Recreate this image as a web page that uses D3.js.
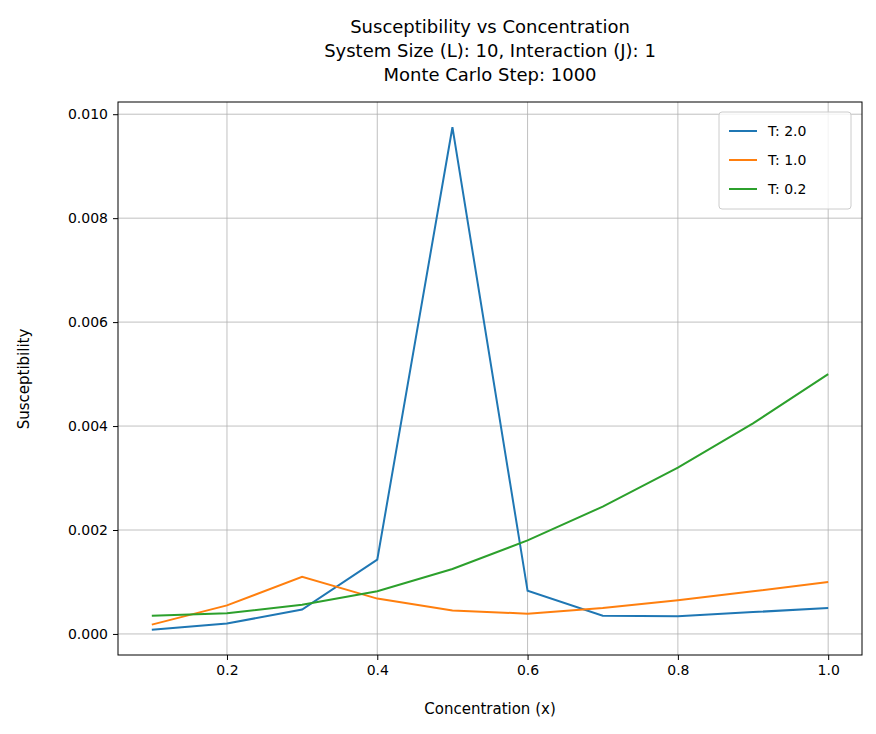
<!DOCTYPE html><html><head><meta charset="utf-8">
<script src="https://cdn.jsdelivr.net/npm/d3@7"></script>
<style>body{margin:0;background:#fff}text{font-family:"DejaVu Sans",sans-serif;fill:#000}</style></head><body>
<svg id="c" width="876" height="734"></svg>
<script>
const xs=[0.1,0.2,0.3,0.4,0.5,0.6,0.7,0.8,0.9,1.0];
const blue=[0.00008,0.0002,0.00047,0.00143,0.00975,0.00083,0.00035,0.00034,0.00042,0.0005];
const orange=[0.00018,0.00055,0.0011,0.00068,0.00045,0.00039,0.0005,0.00065,0.00082,0.001];
const green=[0.00035,0.0004,0.00056,0.00082,0.00125,0.0018,0.00245,0.0032,0.00405,0.005];
const seriesNames=["T: 2.0","T: 1.0","T: 0.2"];
const colors=["#1f77b4","#ff7f0e","#2ca02c"];
const xTicks=[0.2,0.4,0.6,0.8,1.0];
const yTicks=[0,0.002,0.004,0.006,0.008,0.010];
const L=118,R=862,T=102,B=655;
const svg=d3.select("#c");
const x=d3.scaleLinear().domain([0.055,1.045]).range([L,R]);
const y=d3.scaleLinear().domain([-0.000405,0.010235]).range([B,T]);
const g=svg.append("g");
xTicks.forEach(v=>g.append("line").attr("x1",x(v)).attr("x2",x(v)).attr("y1",T).attr("y2",B).attr("stroke","#b0b0b0").attr("stroke-width",0.8));
yTicks.forEach(v=>g.append("line").attr("x1",L).attr("x2",R).attr("y1",y(v)).attr("y2",y(v)).attr("stroke","#b0b0b0").attr("stroke-width",0.8));
const ax=svg.append("g").attr("transform",`translate(0,${B})`).call(d3.axisBottom(x).tickValues(xTicks).tickFormat(d3.format(".1f")).tickSize(5).tickPadding(5));
const ay=svg.append("g").attr("transform",`translate(${L},0)`).call(d3.axisLeft(y).tickValues(yTicks).tickFormat(d3.format(".3f")).tickSize(5).tickPadding(5));
[ax,ay].forEach(a=>{a.select(".domain").remove();a.attr("font-size",null).attr("font-family",null);a.selectAll("text").style("font-size","14px").style("font-family","DejaVu Sans");a.selectAll("line").attr("stroke","#000");});
const line=d3.line().x((d,i)=>x(xs[i])).y(d=>y(d));
[blue,orange,green].forEach((s,k)=>svg.append("path").attr("d",line(s)).attr("fill","none").attr("stroke",colors[k]).attr("stroke-width",2));
svg.append("rect").attr("x",L).attr("y",T).attr("width",R-L).attr("height",B-T).attr("fill","none").attr("stroke","#000").attr("stroke-width",1);
const t=svg.append("text").attr("text-anchor","middle").style("font-size","18px");
["Susceptibility vs Concentration","System Size (L): 10, Interaction (J): 1","Monte Carlo Step: 1000"].forEach((s,i)=>t.append("tspan").attr("x",490).attr("y",33+i*24).text(s));
svg.append("text").attr("x",490).attr("y",714).attr("text-anchor","middle").style("font-size","15px").text("Concentration (x)");
svg.append("text").attr("transform","translate(29,379) rotate(-90)").attr("text-anchor","middle").style("font-size","15px").text("Susceptibility");
const lg=svg.append("g");
lg.append("rect").attr("x",719).attr("y",112).attr("width",132).attr("height",97).attr("rx",3).attr("fill","#fff").attr("fill-opacity",0.8).attr("stroke","#ccc");
seriesNames.forEach((n,k)=>{const yy=131+k*29;
lg.append("line").attr("x1",729).attr("x2",757).attr("y1",yy).attr("y2",yy).attr("stroke",colors[k]).attr("stroke-width",2);
lg.append("text").attr("x",768).attr("y",yy+5).style("font-size","14px").text(n);});
</script></body></html>
